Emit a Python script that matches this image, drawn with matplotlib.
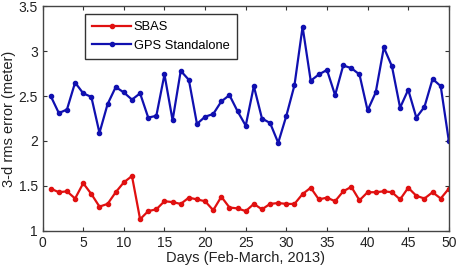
import matplotlib
matplotlib.use("Agg")
import matplotlib.pyplot as plt

days = list(range(1, 51))
sbas = [1.47, 1.43, 1.44, 1.36, 1.53, 1.41, 1.27, 1.30, 1.43, 1.54,
        1.61, 1.13, 1.22, 1.24, 1.33, 1.32, 1.30, 1.37, 1.35, 1.33,
        1.23, 1.38, 1.26, 1.25, 1.22, 1.30, 1.24, 1.30, 1.31, 1.30,
        1.30, 1.41, 1.48, 1.35, 1.37, 1.33, 1.44, 1.49, 1.34, 1.43,
        1.43, 1.44, 1.43, 1.35, 1.48, 1.39, 1.36, 1.43, 1.36, 1.47]
gps = [2.50, 2.31, 2.35, 2.65, 2.53, 2.49, 2.09, 2.41, 2.60, 2.54,
       2.46, 2.53, 2.26, 2.28, 2.74, 2.23, 2.78, 2.68, 2.19, 2.27,
       2.30, 2.44, 2.51, 2.33, 2.17, 2.61, 2.25, 2.20, 1.98, 2.28,
       2.62, 3.27, 2.67, 2.74, 2.79, 2.51, 2.84, 2.81, 2.74, 2.34,
       2.54, 3.04, 2.83, 2.37, 2.57, 2.26, 2.38, 2.69, 2.61, 2.00]
x_ticks = [0, 5, 10, 15, 20, 25, 30, 35, 40, 45, 50]
y_ticks = [1, 1.5, 2, 2.5, 3, 3.5]
y_tick_labels = ["1", "1.5", "2", "2.5", "3", "3.5"]

plt.rcParams['font.family'] = ['Liberation Sans', 'DejaVu Sans']

fig = plt.figure(figsize=(4.58, 2.66), dpi=100)
ax = fig.add_axes([0.093, 0.132, 0.887, 0.845])

ax.plot(days, sbas, color='#e01010', marker='o', markersize=3, linewidth=1.6, label='SBAS')
ax.plot(days, gps, color='#1010b0', marker='o', markersize=3, linewidth=1.6, label='GPS Standalone')

ax.set_xlim(0, 50)
ax.set_ylim(1, 3.5)
ax.set_xticks(x_ticks)
ax.set_yticks(y_ticks)
ax.set_yticklabels(y_tick_labels)
ax.tick_params(direction='in', top=True, right=True, labelsize=10, length=3, colors='#333333', labelcolor='#222222')
for s in ax.spines.values():
    s.set_color('#444444')
    s.set_linewidth(1.0)

ax.set_xlabel('Days (Feb-March, 2013)', fontsize=10.5, color='#222222', labelpad=1)
ax.set_ylabel('3-d rms error (meter)', fontsize=10.5, color='#222222', labelpad=2)

leg = ax.legend(loc='upper left', bbox_to_anchor=(0.105, 0.965), fontsize=9.3,
                frameon=True, fancybox=False, edgecolor='black', borderpad=0.55,
                handlelength=3.0, handletextpad=0.2, labelspacing=0.5, borderaxespad=0)
leg.get_frame().set_linewidth(1.0)

fig.savefig('out.png', dpi=100)
